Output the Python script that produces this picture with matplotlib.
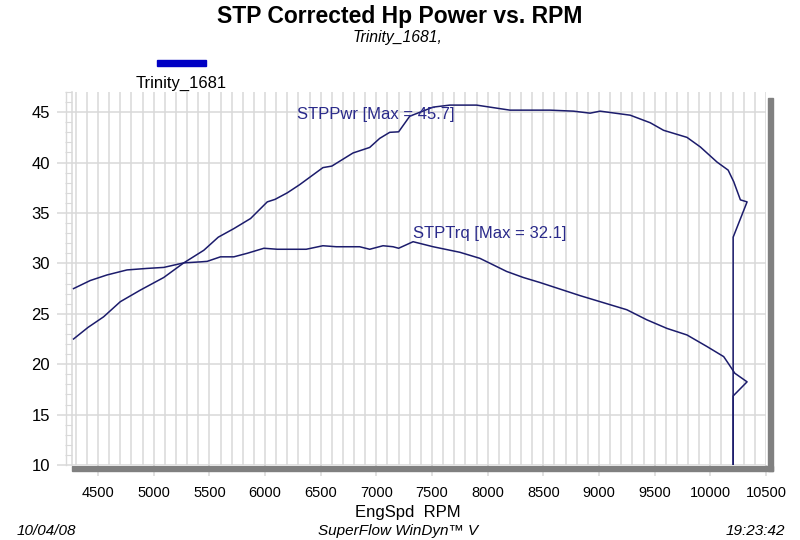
import matplotlib
matplotlib.use('Agg')
import matplotlib.pyplot as plt
import matplotlib.transforms as mtrans
from matplotlib.patches import Rectangle
from matplotlib.lines import Line2D
from matplotlib.ticker import MultipleLocator

plt.rcParams['font.family'] = ['Liberation Sans', 'DejaVu Sans']

# Data
rpm_pwr = [4280, 4410, 4550, 4700, 4880, 5090, 5270, 5450, 5580, 5720, 5870,
           6020, 6090, 6200, 6310, 6520, 6600, 6790, 6940, 7030, 7120, 7200,
           7300, 7510, 7660, 7900, 8200, 8560, 8770, 8920, 9010, 9280, 9460,
           9580, 9790, 9910, 10060, 10160, 10210, 10270, 10330, 10205, 10205]
pwr = [22.5, 23.65, 24.7, 26.2, 27.35, 28.6, 30.05, 31.3, 32.6, 33.45, 34.45,
       36.1, 36.35, 37.0, 37.8, 39.5, 39.65, 40.95, 41.5, 42.4, 43.0, 43.05,
       44.6, 45.5, 45.7, 45.7, 45.2, 45.2, 45.1, 44.9, 45.1, 44.7, 43.95,
       43.2, 42.5, 41.55, 40.05, 39.25, 38.1, 36.3, 36.1, 32.6, 10.0]

rpm_trq = [4280, 4430, 4580, 4760, 4940, 5090, 5270, 5420, 5480, 5600, 5720,
           5840, 5990, 6110, 6250, 6370, 6520, 6640, 6850, 6940, 7060, 7150,
           7200, 7330, 7510, 7750, 7930, 8170, 8320, 8470, 8650, 8830, 9010,
           9250, 9430, 9610, 9790, 9970, 10120, 10160, 10220, 10330, 10205, 10205]
trq = [27.5, 28.3, 28.85, 29.35, 29.5, 29.6, 30.05, 30.15, 30.2, 30.65, 30.65,
       31.0, 31.5, 31.4, 31.4, 31.4, 31.75, 31.65, 31.65, 31.4, 31.75, 31.65,
       31.5, 32.15, 31.65, 31.1, 30.5, 29.2, 28.6, 28.1, 27.45, 26.8, 26.2,
       25.4, 24.4, 23.55, 22.9, 21.75, 20.75, 20.1, 19.1, 18.25, 16.85, 10.0]

W, H = 800, 540
def fx(px):
    return px / W
def fy(py):
    return 1 - py / H

gridc = '#d9d9d9'
linec = '#1c1c6c'
barc = '#808080'

fig = plt.figure(figsize=(8, 5.4), dpi=100)
ax = fig.add_axes([fx(72), fy(465), fx(766) - fx(72), fy(92) - fy(465)])

ax.plot(rpm_pwr, pwr, color=linec, lw=1.1, zorder=3)
ax.plot(rpm_trq, trq, color=linec, lw=1.1, zorder=3)

ax.set_xlim(4266, 10500)
ax.set_ylim(10, 47)

ax.xaxis.set_major_locator(MultipleLocator(500))
ax.xaxis.set_minor_locator(MultipleLocator(100))
ax.yaxis.set_major_locator(MultipleLocator(5))
ax.yaxis.set_minor_locator(MultipleLocator(1))

ax.grid(which='major', color=gridc, lw=1.1)
ax.grid(which='minor', axis='x', color=gridc, lw=1.1)
ax.set_axisbelow(True)

for s in ['top', 'right', 'bottom']:
    ax.spines[s].set_visible(False)
ax.spines['left'].set_color(gridc)
ax.spines['left'].set_linewidth(1.1)

ax.tick_params(axis='y', which='major', length=11, width=1.1, color=gridc,
               labelsize=12, pad=5)
ax.tick_params(axis='y', which='minor', length=5, width=0.8, color=gridc)
ax.tick_params(axis='x', which='major', length=8, width=1.1, color=gridc,
               labelsize=10.5, pad=7)
ax.tick_params(axis='x', which='minor', length=0)

# shadow bars along bottom and right
fig.patches.append(Rectangle((fx(72), fy(471)), fx(773) - fx(72), fy(466) - fy(471),
                             transform=fig.transFigure, color=barc, zorder=1))
fig.patches.append(Rectangle((fx(768), fy(471)), fx(773) - fx(768), fy(98) - fy(471),
                             transform=fig.transFigure, color=barc, zorder=1))
blend = mtrans.blended_transform_factory(ax.transData, fig.transFigure)
ax.vlines(range(4500, 10001, 500), fy(471), fy(466), colors='white', lw=1.3,
          transform=blend, clip_on=False, zorder=5)
fig.add_artist(Line2D([fx(66), fx(66)], [fy(465), fy(92)], color=gridc, lw=1.0))

# curve labels
ax.text(6287, 44.3, 'STPPwr [Max = 45.7]', color='#2a2a8a', fontsize=12,
        ha='left', va='baseline')
ax.text(7329, 32.5, 'STPTrq [Max = 32.1]', color='#2a2a8a', fontsize=12,
        ha='left', va='baseline')

# titles and legend
fig.text(0.5, fy(23), 'STP Corrected Hp Power vs. RPM', ha='center', va='baseline',
         fontsize=16.5, fontweight='bold')
fig.text(fx(398), fy(42), 'Trinity_1681,', ha='center', va='baseline',
         fontsize=11.3, style='italic')
fig.patches.append(Rectangle((fx(157), fy(66)), fx(206) - fx(157), fy(60) - fy(66),
                             transform=fig.transFigure, color='#0000c4'))
fig.text(fx(181), fy(88), 'Trinity_1681', ha='center', va='baseline', fontsize=12)

fig.text(fx(408), fy(517), 'EngSpd  RPM', ha='center', va='baseline', fontsize=12)
fig.text(fx(17), fy(535), '10/04/08', ha='left', va='baseline', fontsize=11,
         style='italic')
fig.text(fx(398), fy(535), 'SuperFlow WinDyn\u2122 V', ha='center', va='baseline',
         fontsize=11, style='italic')
fig.text(fx(785), fy(535), '19:23:42', ha='right', va='baseline', fontsize=11,
         style='italic')

plt.savefig('out.png', dpi=100)
